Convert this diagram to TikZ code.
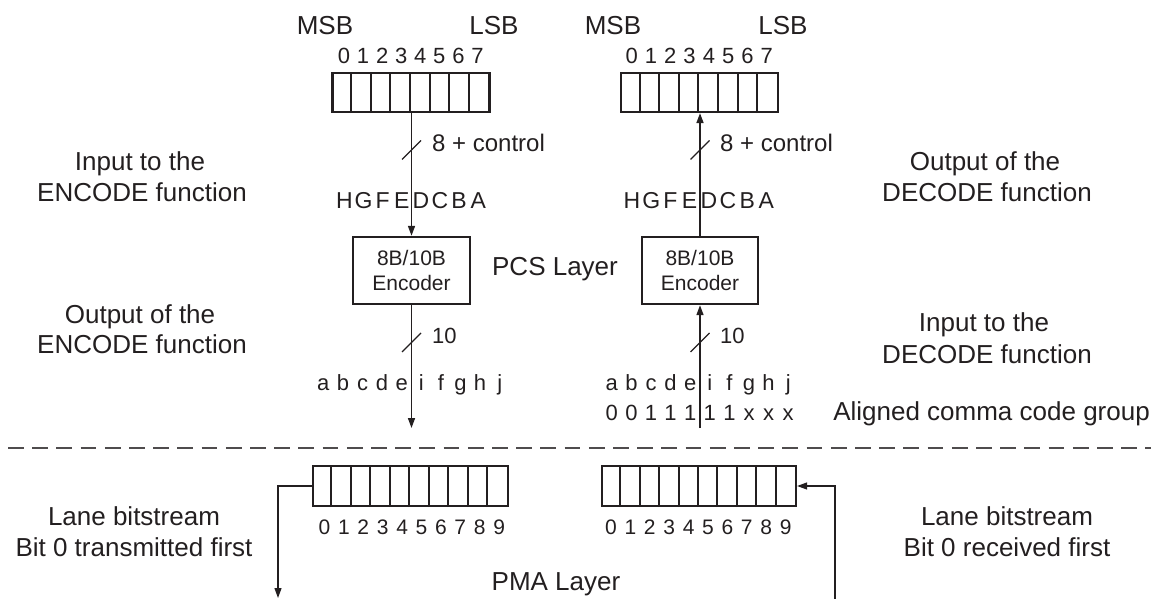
\documentclass[tikz,border=0pt]{standalone}
\usepackage{fontspec}
\setmainfont{Liberation Sans}
\usetikzlibrary{arrows.meta}
\definecolor{ink}{RGB}{35,31,32}
\begin{document}
\begin{tikzpicture}[x=1pt,y=-1pt,
  lbl/.style={font=\fontsize{26}{31}\selectfont, text=ink, inner sep=0pt, anchor=base},
  mid/.style={font=\fontsize{24}{28}\selectfont, text=ink, inner sep=0pt, anchor=base west},
  dig/.style={font=\fontsize{22}{26}\selectfont, text=ink, inner sep=0pt, anchor=base},
  bdig/.style={font=\fontsize{21}{25}\selectfont, text=ink, inner sep=0pt, anchor=base},
  reg/.style={draw=ink, line width=2.2pt, inner sep=0pt},
  cell/.style={draw=ink, line width=2pt},
  enc/.style={draw=ink, line width=2.4pt, minimum width=117pt, minimum height=67pt, inner sep=0pt,
    align=center, text=ink, font=\fontsize{21}{24.5}\selectfont},
  wire/.style={draw=ink, line width=1.6pt},
  arr/.style={wire, -{Triangle[length=10pt,width=7pt]}},
  thinarr/.style={draw=ink, line width=1.2pt, -{Triangle[length=10pt,width=7pt]}},
  slash/.style={draw=ink, line width=1.3pt},
  sep/.style={draw=ink!80, line width=1.8pt, dash pattern=on 15.7pt off 8.5pt, dash phase=16.2pt}
]
\useasboundingbox (0,0) rectangle (1151,599);

% ---- top registers
\node[reg, minimum width=157pt, minimum height=39pt] (rTL) at (411,92.5) {};
\node[reg, minimum width=157pt, minimum height=39pt] (rTR) at (699.5,92.5) {};
\foreach \i in {1,...,7} {
  \draw[cell] ([xshift=\i*19.625pt]rTL.south west) -- ([xshift=\i*19.625pt]rTL.north west);
  \draw[cell] ([xshift=\i*19.625pt]rTR.south west) -- ([xshift=\i*19.625pt]rTR.north west);
}
\node[lbl] (msbL) at (325,35) {MSB};
\node[lbl] (lsbL) at (494,35) {LSB};
\node[lbl] (msbR) at (613,35) {MSB};
\node[lbl] (lsbR) at (783,35) {LSB};
\foreach \d [count=\k from 0] in {0,...,7} {
  \node[dig] (tdL\d) at ({344+19.07*\k},64) {\d};
  \node[dig] (tdR\d) at ({631.7+19.3*\k},64) {\d};
}
\foreach \c [count=\k from 0] in {H,G,F,E,D,C,B,A} {
  \node[dig, font=\fontsize{23}{27}\selectfont] (hL\k) at ({344.5+19.1*\k},208) {\c};
  \node[dig, font=\fontsize{23}{27}\selectfont] (hR\k) at ({632+19.2*\k},208) {\c};
}

% ---- encoders
\node[enc] (encL) at (411.5,270.5) {8B/10B\\Encoder};
\node[enc, minimum width=116pt] (encR) at (700,270.5) {8B/10B\\Encoder};
\node[lbl] (pcs) at (555,275) {PCS Layer};

\draw[arr] (rTL.south -| encL.north) -- (encL.north);
\draw[arr] (encR.north) -- (rTR.south -| encR.north);
\coordinate (outL) at (411.5,428);
\coordinate (inR) at (700,428);
\draw[arr] (encL.south) -- (outL);
\draw[arr] (inR) -- (encR.south);

% bus slashes
\draw[slash] (402,159.5) -- (421,140.5);
\draw[slash] (690.5,159.5) -- (709.5,140.5);
\draw[slash] (402,352) -- (421,333);
\draw[slash] (690.5,352) -- (709.5,333);
\node[mid] (ctlL) at (432,151) {8 + control};
\node[mid] (ctlR) at (720,151) {8 + control};
\node[mid, font=\fontsize{22}{26}\selectfont] (tenL) at (432,343) {10};
\node[mid, font=\fontsize{22}{26}\selectfont] (tenR) at (720,343) {10};

% code group letters
\foreach \c [count=\k from 1] in {a,b,c,d,e,i,f,g,h,j} {
  \node[dig] (aL\k) at ({411.5+(\k-5.5)*19.6},390) {\c};
  \node[dig] (aR\k) at ({700+(\k-5.5)*19.6},390) {\c};
}
\foreach \c [count=\k from 1] in {0,0,1,1,1,1,1,x,x,x} {
  \node[dig] (bR\k) at ({700+(\k-5.5)*19.6},420) {\c};
}
\node[lbl, anchor=base east] (acg) at (1150,420) {Aligned comma code group};

% ---- side labels
\node[lbl] (inEa) at (140,170) {Input to the};
\node[lbl] (inEb) at (142,201.7) {ENCODE function};
\node[lbl] (outEa) at (140,323) {Output of the};
\node[lbl] (outEb) at (142,353.5) {ENCODE function};
\node[lbl] (outDa) at (985,170) {Output of the};
\node[lbl] (outDb) at (987,201.7) {DECODE function};
\node[lbl] (inDa) at (984,331.7) {Input to the};
\node[lbl] (inDb) at (987,363) {DECODE function};

% ---- separator
\coordinate (sepL) at (0,448);
\coordinate (sepR) at (1151,448);
\draw[sep] (sepL) -- (sepR);

% ---- bottom registers
\node[reg, minimum width=195pt, minimum height=40pt] (rBL) at (410.5,486) {};
\node[reg, minimum width=194pt, minimum height=40pt] (rBR) at (699,486) {};
\foreach \i in {1,...,9} {
  \draw[cell] ([xshift=\i*19.5pt]rBL.south west) -- ([xshift=\i*19.5pt]rBL.north west);
  \draw[cell] ([xshift=\i*19.4pt]rBR.south west) -- ([xshift=\i*19.4pt]rBR.north west);
}
\foreach \d [count=\k from 0] in {0,...,9} {
  \node[bdig] (bdL\d) at ({324.5+19.4*\k},534) {\d};
  \node[bdig] (bdR\d) at ({611+19.4*\k},534) {\d};
}
\coordinate (txEnd) at (278,598);
\coordinate (rxStart) at (835,599);
\draw[thinarr] (rBL.west) -| (txEnd);
\draw[thinarr] (rxStart) |- (rBR.east);

\node[lbl] (laneLa) at (134,525) {Lane bitstream};
\node[lbl] (laneLb) at (134,556) {Bit 0 transmitted first};
\node[lbl] (laneRa) at (1007,525) {Lane bitstream};
\node[lbl] (laneRb) at (1007,556) {Bit 0 received first};
\node[lbl] (pma) at (556,590) {PMA Layer};
\end{tikzpicture}
\end{document}
